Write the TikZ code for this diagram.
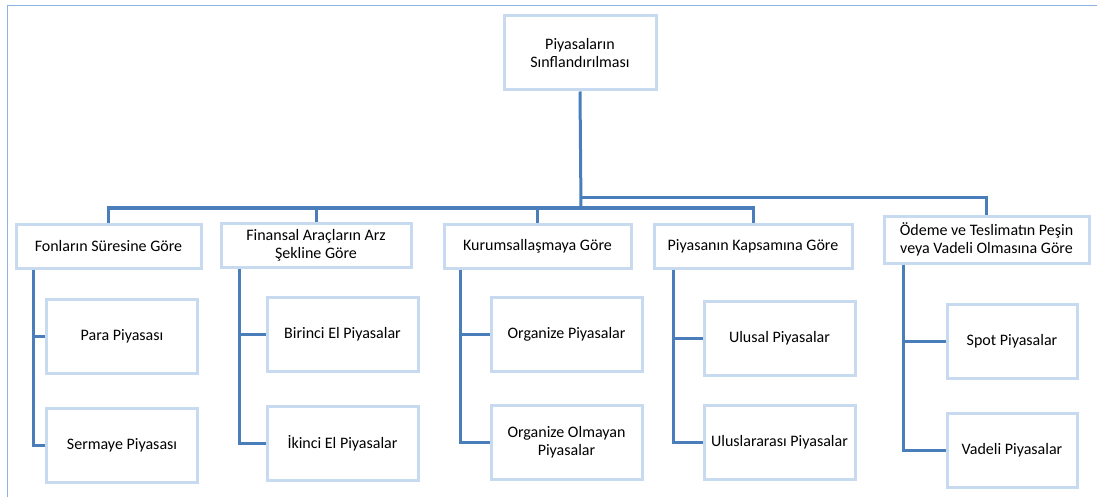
\documentclass[tikz,border=0pt]{standalone}
\usepackage{fontspec}
\setmainfont{Carlito}
\definecolor{linkblue}{RGB}{74,126,187}
\definecolor{boxedge}{RGB}{200,218,239}
\definecolor{framecol}{RGB}{141,179,226}

\begin{document}
\begin{tikzpicture}[x=1pt,y=-1pt,
  box/.style={draw=boxedge,line width=3pt,fill=white,align=center,inner sep=2pt,
    font=\fontsize{16}{18.5}\selectfont},
  catbox/.style={box,minimum height=44pt},
  leafbox/.style={box,minimum width=151pt,minimum height=74pt},
  link/.style={draw=linkblue,line width=3pt}]
\useasboundingbox (0,0) rectangle (1097,497);
\draw[framecol,line width=1.5pt] (7.5,497) -- (7.5,5.5) -- (1097,5.5);

% root
\node[box,minimum width=152pt,minimum height=74pt](root) at (580,53){Piyasaların\\Sınflandırılması};

% categories
\node[catbox,minimum width=185pt](k1) at (108.5,246){Fonların Süresine Göre};
\node[catbox,minimum width=190pt](k2) at (316,245.5){Finansal Araçların Arz\\Şekline Göre};
\node[catbox,minimum width=187pt](k3) at (537.5,246){Kurumsallaşmaya Göre};
\node[catbox,minimum width=198pt](k4) at (753,246){Piyasanın Kapsamına Göre};
\node[catbox,minimum width=205pt,minimum height=47pt](k5) at (986.5,239.5){Ödeme ve Teslimatın Peşin\\veya Vadeli Olmasına Göre};

% leaves
\node[leafbox](p1) at (122,336.5){Para Piyasası};
\node[leafbox](p2) at (122,445){Sermaye Piyasası};
\node[leafbox](f1) at (342.5,334){Birinci El Piyasalar};
\node[leafbox](f2) at (342.5,443){İkinci El Piyasalar};
\node[leafbox](o1) at (566.5,334){Organize Piyasalar};
\node[leafbox](o2) at (566.5,442){Organize Olmayan\\Piyasalar};
\node[leafbox](u1) at (779.5,338){Ulusal Piyasalar};
\node[leafbox](u2) at (779.5,442.5){Uluslararası Piyasalar};
\node[leafbox,minimum width=130pt](s1) at (1012,341.5){Spot Piyasalar};
\node[leafbox,minimum width=130pt](s2) at (1012,450){Vadeli Piyasalar};

% trunk
\coordinate (jl) at (581,208);
\coordinate (jr) at (581,198);
\draw[link] (root.south) -- (jl);
\draw[link] (k1.north) |- (jl) -| (k4.north);
\draw[link] (k2.north) -- (k2.north |- jl);
\draw[link] (k3.north) -- (k3.north |- jl);
\draw[link] (jr) -| (k5.north);

% branches
\draw[link] ([xshift=19pt]k1.south west) |- (p1.west);
\draw[link] ([xshift=19pt]k1.south west) |- (p2.west);
\draw[link] ([xshift=20pt]k2.south west) |- (f1.west);
\draw[link] ([xshift=20pt]k2.south west) |- (f2.west);
\draw[link] ([xshift=18pt]k3.south west) |- (o1.west);
\draw[link] ([xshift=18pt]k3.south west) |- (o2.west);
\draw[link] ([xshift=21pt]k4.south west) |- (u1.west);
\draw[link] ([xshift=21pt]k4.south west) |- (u2.west);
\draw[link] ([xshift=21pt]k5.south west) |- (s1.west);
\draw[link] ([xshift=21pt]k5.south west) |- (s2.west);
\end{tikzpicture}
\end{document}
